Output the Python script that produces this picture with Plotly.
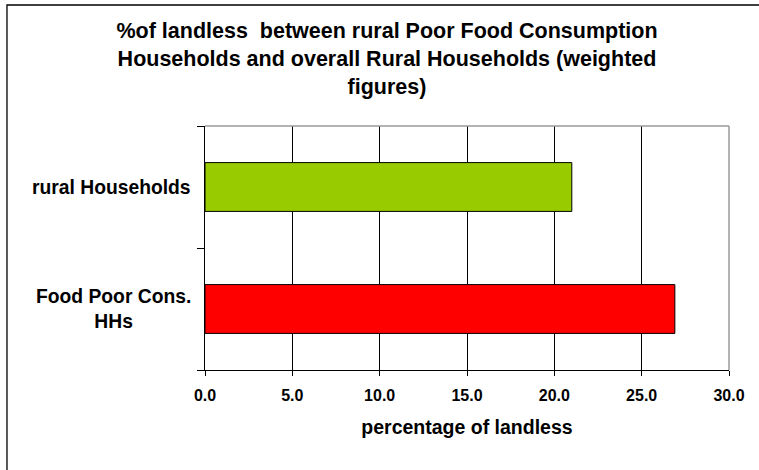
import plotly.graph_objects as go

# Share of landless households (weighted), by group
categories = ["Food Poor Cons.<br>HHs", "rural Households"]
values = [26.9, 21.0]
bar_colors = ["#FF0000", "#99CC00"]
x_ticks = [0, 5, 10, 15, 20, 25, 30]

title_text = ("%of landless  between rural Poor Food Consumption<br>"
              "Households and overall Rural Households (weighted<br>"
              "figures)")
x_title = "percentage of landless"

FONT = "Liberation Sans, Arial, sans-serif"

fig = go.Figure()
fig.add_trace(go.Bar(
    y=categories,
    x=values,
    orientation="h",
    width=0.4,
    marker=dict(color=bar_colors, line=dict(color="black", width=1)),
    hoverinfo="x+y",
))

# category labels, centred under each other to the left of the axis
annotations = []
for cat in categories:
    annotations.append(dict(
        x=-0.022, xref="paper", xanchor="right",
        y=cat, yref="y", yanchor="middle",
        text=cat, showarrow=False, align="center",
        font=dict(family=FONT, size=19.3, color="black", weight="bold"),
    ))

shapes = [
    # grey frame on the top and right of the plotting area
    dict(type="line", xref="paper", yref="paper", x0=0, x1=1, y0=1, y1=1,
         line=dict(color="#9a9a9a", width=1.5), layer="above"),
    dict(type="line", xref="paper", yref="paper", x0=1, x1=1, y0=0, y1=1,
         line=dict(color="#9a9a9a", width=1.5), layer="above"),
    # outer chart frame
    dict(type="rect", xref="paper", yref="paper",
         x0=-0.3779, x1=1.2, y0=-0.6, y1=1.4959,
         line=dict(color="black", width=1.3), layer="above"),
]

fig.update_layout(
    width=759, height=470,
    margin=dict(l=205, r=30, t=126, b=100),
    paper_bgcolor="white", plot_bgcolor="white",
    showlegend=False,
    bargap=0.6,
    title=dict(
        text=title_text,
        x=387 / 759, xref="container", xanchor="center",
        y=1 - 38 / 470, yref="container", yanchor="top",
        font=dict(family=FONT, size=21.5, color="black", weight="bold"),
    ),
    xaxis=dict(
        range=[0, 30],
        tickvals=x_ticks, tickformat=".1f",
        showgrid=True, gridcolor="black", gridwidth=1,
        zeroline=False,
        showline=True, linecolor="black", linewidth=1,
        ticks="outside", ticklen=5, tickcolor="black",
        ticklabelstandoff=6,
        tickfont=dict(family=FONT, size=16, color="black", weight="bold"),
        title=dict(text=x_title, standoff=17,
                   font=dict(family=FONT, size=19.5, color="black", weight="bold")),
        fixedrange=True,
    ),
    yaxis=dict(
        type="category",
        categoryorder="array", categoryarray=categories,
        showgrid=False, zeroline=False,
        showline=True, linecolor="black", linewidth=1,
        ticks="outside", ticklen=7, tickcolor="black",
        tickson="boundaries",
        showticklabels=False,
        fixedrange=True,
    ),
    annotations=annotations,
    shapes=shapes,
)

fig.write_html("out.html")
